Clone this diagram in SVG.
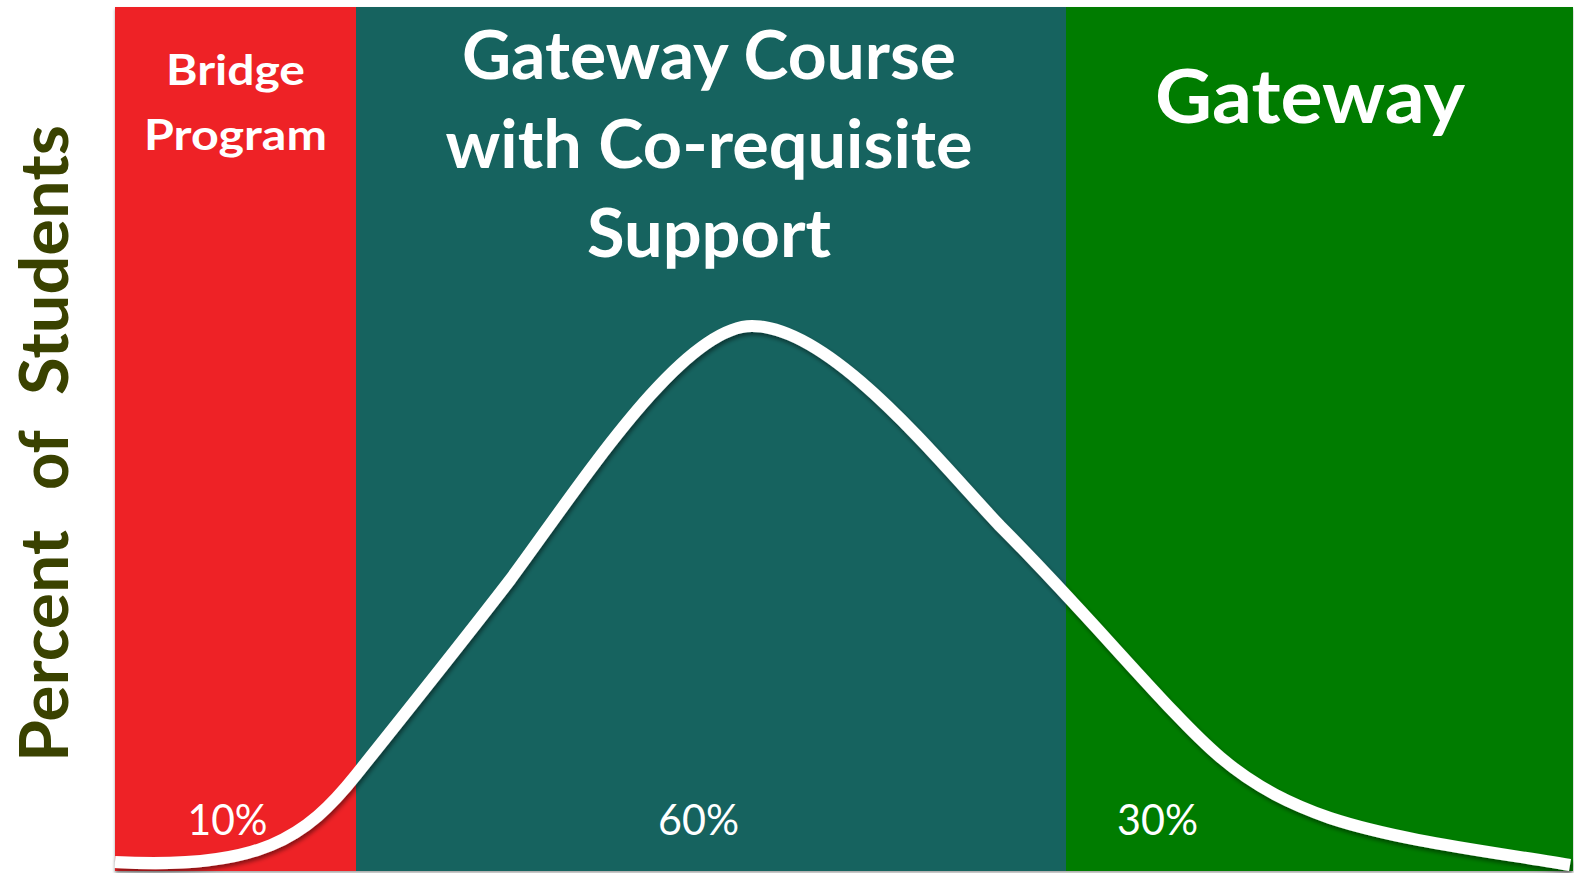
<svg xmlns="http://www.w3.org/2000/svg" width="1574" height="873" viewBox="0 0 1574 873">
<style>
.title{font-family:Lato,"Open Sans","Liberation Sans",sans-serif;font-weight:700;fill:#ffffff;text-anchor:middle}
.pct{font-family:Lato,"Open Sans","Liberation Sans",sans-serif;font-weight:400;font-size:43px;fill:#ffffff;text-anchor:middle}
.axis{font-family:Lato,"Open Sans","Liberation Sans",sans-serif;font-weight:700;font-size:67px;fill:#3A4200}
</style>
<defs>
<filter id="bandShadow" x="-5%" y="-5%" width="110%" height="110%">
<feDropShadow dx="0" dy="2" stdDeviation="1.5" flood-color="#000" flood-opacity="0.35"/>
</filter>
<filter id="curveShadow" x="-5%" y="-5%" width="110%" height="110%">
<feDropShadow dx="1.5" dy="3" stdDeviation="2" flood-color="#000" flood-opacity="0.45"/>
</filter>
</defs>
<rect width="1574" height="873" fill="#ffffff"/>
<g id="bands" filter="url(#bandShadow)">
<rect id="band-bridge" x="115" y="7" width="241" height="864" fill="#EE2428"/>
<rect id="band-coreq" x="356" y="7" width="710" height="864" fill="#18635E"/>
<rect id="band-gateway" x="1066" y="7" width="507" height="864" fill="#007C00"/>
</g>
<g id="connectors">
<path id="bell-curve" filter="url(#curveShadow)" fill="none" stroke="#ffffff" stroke-width="12" stroke-linecap="butt" stroke-linejoin="round"
d="M115,862 C260,870 306,837.5 356,775 C406,712.5 460,645 510,580 C580,485.5 682,326 752,326 C832,326 940,463 1000,526 C1090,616 1170,714.5 1220,757 C1257,788.5 1293,805 1330,818 C1400,841 1490,851.4 1570,865"/>
</g>
<g id="node-bridge">
<text class="title" x="235.5" y="85" font-size="42" textLength="139" lengthAdjust="spacingAndGlyphs">Bridge</text>
<text class="title" x="235.5" y="150" font-size="42" textLength="183" lengthAdjust="spacingAndGlyphs">Program</text>
<text class="pct" x="227.5" y="835" textLength="80" lengthAdjust="spacingAndGlyphs">10%</text>
</g>
<g id="node-coreq">
<text class="title" x="709" y="79" font-size="66" textLength="494" lengthAdjust="spacingAndGlyphs">Gateway Course</text>
<text class="title" x="709" y="168" font-size="66" textLength="527" lengthAdjust="spacingAndGlyphs">with Co-requisite</text>
<text class="title" x="709" y="257" font-size="66" textLength="244" lengthAdjust="spacingAndGlyphs">Support</text>
<text class="pct" x="698.5" y="835" textLength="81" lengthAdjust="spacingAndGlyphs">60%</text>
</g>
<g id="node-gateway">
<text class="title" x="1310" y="123" font-size="75" textLength="310" lengthAdjust="spacingAndGlyphs">Gateway</text>
<text class="pct" x="1157.5" y="835" textLength="81" lengthAdjust="spacingAndGlyphs">30%</text>
</g>
<g id="axis-label">
<text class="axis" transform="translate(68,762) rotate(-90)"><tspan x="0" textLength="232" lengthAdjust="spacingAndGlyphs">Percent</tspan><tspan x="272" textLength="60" lengthAdjust="spacingAndGlyphs">of</tspan><tspan x="367" textLength="270" lengthAdjust="spacingAndGlyphs">Students</tspan></text>
</g>
</svg>
